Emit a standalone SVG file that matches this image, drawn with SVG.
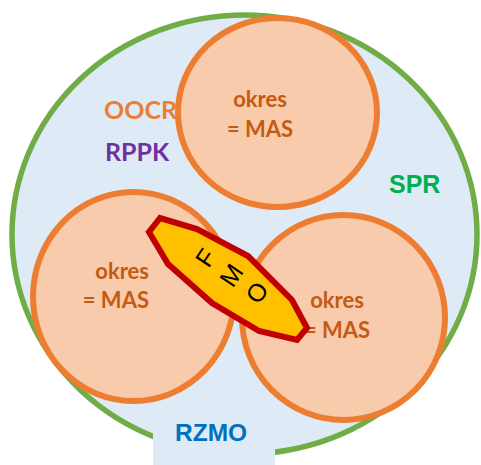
<svg xmlns="http://www.w3.org/2000/svg" width="481" height="465" viewBox="0 0 481 465">
  <style>
    .region { fill: #DEEBF7; stroke: #70AD47; stroke-width: 5.5; }
    .okres { fill: #F8CBAD; stroke: #ED7D31; stroke-width: 6; }
    .mas { font-family: Lato, "Open Sans", sans-serif; font-weight: 700; font-size: 22px; fill: #C55A11; }
    .lbl { font-family: Lato, "Open Sans", sans-serif; font-weight: 700; font-size: 25px; }
    .lblA { font-family: "Liberation Sans", Arial, sans-serif; font-weight: 700; font-size: 25px; }
    .fmo-shape { fill: #FFC000; stroke: #C00000; stroke-width: 6; stroke-linejoin: miter; }
    .fmo-txt { font-family: "Liberation Sans", Arial, sans-serif; font-size: 25px; fill: #000; text-anchor: middle; }
  </style>

  <!-- outer region -->
  <g id="region">
    <ellipse class="region" cx="244.5" cy="234.5" rx="232.5" ry="219.5"/>
    <rect x="153" y="418" width="122" height="47" fill="#DEEBF7"/>
  </g>

  <g id="labels-left">
    <text class="lbl" x="104" y="119" fill="#ED7D31">OOCR</text>
    <text class="lbl" x="105" y="161" fill="#7030A0">RPPK</text>
  </g>

  <g id="label-spr">
    <text class="lblA" x="389" y="193" fill="#00B050">SPR</text>
  </g>
  <g id="label-rzmo">
    <text class="lblA" x="175" y="441" fill="#0070C0" style="font-size:24.5px">RZMO</text>
  </g>

  <!-- districts -->
  <g id="okres-top">
    <ellipse class="okres" cx="277.5" cy="112.5" rx="99.5" ry="94.5"/>
    <text class="mas" x="260" y="107" text-anchor="middle">okres</text>
    <text class="mas" x="260" y="137" text-anchor="middle">= MAS</text>
  </g>
  <g id="okres-right">
    <ellipse class="okres" cx="343.5" cy="317.5" rx="101.5" ry="102.5"/>
    <text class="mas" x="337" y="308" text-anchor="middle">okres</text>
    <text class="mas" x="337" y="338" text-anchor="middle">= MAS</text>
  </g>
  <g id="okres-left">
    <ellipse class="okres" cx="133.5" cy="296.5" rx="100.5" ry="104.5"/>
    <text class="mas" x="149" y="279" text-anchor="end">okres</text>
    <text class="mas" x="149" y="308" text-anchor="end">= MAS</text>
  </g>

  <!-- FMO band -->
  <g id="fmo">
    <polygon class="fmo-shape" points="160,218 149,232 168,264 212,303 259,331 297,340 307,328 292,300 248,256 197,229"/>
    <g transform="translate(231,275) rotate(-56)">
      <text class="fmo-txt" x="0" y="-22">F</text>
      <text class="fmo-txt" x="0" y="9">M</text>
      <text class="fmo-txt" x="0" y="40">O</text>
    </g>
  </g>
</svg>
